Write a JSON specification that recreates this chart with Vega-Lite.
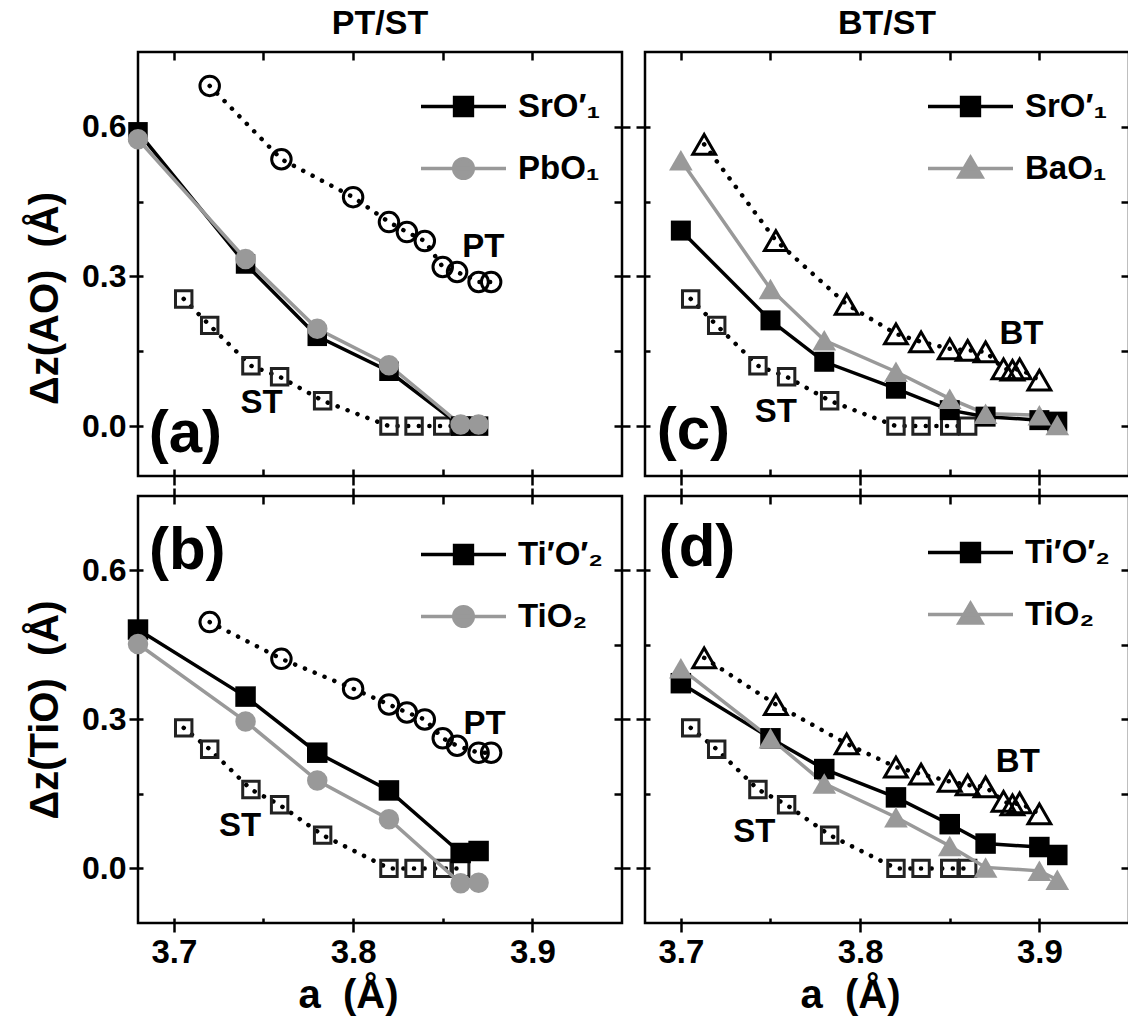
{
  "$schema": "https://vega.github.io/schema/vega-lite/v6.json",
  "background": "white",
  "padding": {"left": 24, "top": 5, "right": 0, "bottom": 5},
  "config": {
    "view": {"stroke": "black", "strokeWidth": 2.5},
    "font": "Liberation Sans",
    "axis": {"domain": false, "grid": false, "tickColor": "black", "tickWidth": 2.5, "labelFont": "Liberation Sans", "labelFontWeight": "bold", "labelFontSize": 32, "labelColor": "black", "titleFont": "Liberation Sans", "titleFontWeight": "bold", "titleColor": "black"}
  },
  "datasets": {
    "dA": [
      {"s": "SrO′₁", "a": 3.68, "v": 0.59}, {"s": "SrO′₁", "a": 3.74, "v": 0.325}, {"s": "SrO′₁", "a": 3.78, "v": 0.18}, {"s": "SrO′₁", "a": 3.82, "v": 0.11}, {"s": "SrO′₁", "a": 3.86, "v": 0.0}, {"s": "SrO′₁", "a": 3.87, "v": 0.0},
      {"s": "PbO₁", "a": 3.68, "v": 0.575}, {"s": "PbO₁", "a": 3.74, "v": 0.335}, {"s": "PbO₁", "a": 3.78, "v": 0.195}, {"s": "PbO₁", "a": 3.82, "v": 0.122}, {"s": "PbO₁", "a": 3.86, "v": 0.003}, {"s": "PbO₁", "a": 3.87, "v": 0.003},
      {"s": "PT", "a": 3.72, "v": 0.682}, {"s": "PT", "a": 3.76, "v": 0.535}, {"s": "PT", "a": 3.8, "v": 0.459}, {"s": "PT", "a": 3.82, "v": 0.409}, {"s": "PT", "a": 3.83, "v": 0.389}, {"s": "PT", "a": 3.84, "v": 0.371}, {"s": "PT", "a": 3.85, "v": 0.319}, {"s": "PT", "a": 3.858, "v": 0.309}, {"s": "PT", "a": 3.87, "v": 0.289}, {"s": "PT", "a": 3.877, "v": 0.289},
      {"s": "ST", "a": 3.7055, "v": 0.255}, {"s": "ST", "a": 3.72, "v": 0.202}, {"s": "ST", "a": 3.743, "v": 0.121}, {"s": "ST", "a": 3.759, "v": 0.099}, {"s": "ST", "a": 3.783, "v": 0.051}, {"s": "ST", "a": 3.82, "v": 0.0}, {"s": "ST", "a": 3.834, "v": 0.0}, {"s": "ST", "a": 3.85, "v": 0.0}, {"s": "ST", "a": 3.86, "v": 0.0}
    ],
    "dB": [
      {"s": "Ti′O′₂", "a": 3.68, "v": 0.481}, {"s": "Ti′O′₂", "a": 3.74, "v": 0.346}, {"s": "Ti′O′₂", "a": 3.78, "v": 0.233}, {"s": "Ti′O′₂", "a": 3.82, "v": 0.157}, {"s": "Ti′O′₂", "a": 3.86, "v": 0.031}, {"s": "Ti′O′₂", "a": 3.87, "v": 0.035},
      {"s": "TiO₂", "a": 3.68, "v": 0.452}, {"s": "TiO₂", "a": 3.74, "v": 0.296}, {"s": "TiO₂", "a": 3.78, "v": 0.177}, {"s": "TiO₂", "a": 3.82, "v": 0.099}, {"s": "TiO₂", "a": 3.86, "v": -0.03}, {"s": "TiO₂", "a": 3.87, "v": -0.029},
      {"s": "PT", "a": 3.72, "v": 0.496}, {"s": "PT", "a": 3.76, "v": 0.422}, {"s": "PT", "a": 3.8, "v": 0.362}, {"s": "PT", "a": 3.82, "v": 0.33}, {"s": "PT", "a": 3.83, "v": 0.314}, {"s": "PT", "a": 3.84, "v": 0.3}, {"s": "PT", "a": 3.85, "v": 0.262}, {"s": "PT", "a": 3.858, "v": 0.247}, {"s": "PT", "a": 3.87, "v": 0.233}, {"s": "PT", "a": 3.877, "v": 0.233},
      {"s": "ST", "a": 3.7055, "v": 0.283}, {"s": "ST", "a": 3.72, "v": 0.24}, {"s": "ST", "a": 3.743, "v": 0.159}, {"s": "ST", "a": 3.759, "v": 0.128}, {"s": "ST", "a": 3.783, "v": 0.067}, {"s": "ST", "a": 3.82, "v": 0.0}, {"s": "ST", "a": 3.834, "v": 0.0}, {"s": "ST", "a": 3.85, "v": 0.0}, {"s": "ST", "a": 3.86, "v": 0.0}
    ],
    "dC": [
      {"s": "SrO′₁", "a": 3.7, "v": 0.392}, {"s": "SrO′₁", "a": 3.75, "v": 0.212}, {"s": "SrO′₁", "a": 3.78, "v": 0.129}, {"s": "SrO′₁", "a": 3.82, "v": 0.075}, {"s": "SrO′₁", "a": 3.85, "v": 0.032}, {"s": "SrO′₁", "a": 3.87, "v": 0.019}, {"s": "SrO′₁", "a": 3.9, "v": 0.012}, {"s": "SrO′₁", "a": 3.91, "v": 0.009},
      {"s": "BaO₁", "a": 3.7, "v": 0.533}, {"s": "BaO₁", "a": 3.75, "v": 0.275}, {"s": "BaO₁", "a": 3.78, "v": 0.172}, {"s": "BaO₁", "a": 3.82, "v": 0.109}, {"s": "BaO₁", "a": 3.85, "v": 0.055}, {"s": "BaO₁", "a": 3.87, "v": 0.025}, {"s": "BaO₁", "a": 3.9, "v": 0.022}, {"s": "BaO₁", "a": 3.91, "v": 0.002},
      {"s": "BT", "a": 3.713, "v": 0.565}, {"s": "BT", "a": 3.753, "v": 0.372}, {"s": "BT", "a": 3.7925, "v": 0.244}, {"s": "BT", "a": 3.82, "v": 0.185}, {"s": "BT", "a": 3.834, "v": 0.169}, {"s": "BT", "a": 3.85, "v": 0.155}, {"s": "BT", "a": 3.86, "v": 0.152}, {"s": "BT", "a": 3.87, "v": 0.149}, {"s": "BT", "a": 3.88, "v": 0.115}, {"s": "BT", "a": 3.885, "v": 0.112}, {"s": "BT", "a": 3.889, "v": 0.115}, {"s": "BT", "a": 3.9, "v": 0.092},
      {"s": "ST", "a": 3.7055, "v": 0.255}, {"s": "ST", "a": 3.72, "v": 0.202}, {"s": "ST", "a": 3.743, "v": 0.121}, {"s": "ST", "a": 3.759, "v": 0.099}, {"s": "ST", "a": 3.783, "v": 0.051}, {"s": "ST", "a": 3.82, "v": 0.0}, {"s": "ST", "a": 3.834, "v": 0.0}, {"s": "ST", "a": 3.85, "v": 0.0}, {"s": "ST", "a": 3.86, "v": 0.0}
    ],
    "dD": [
      {"s": "Ti′O′₂", "a": 3.7, "v": 0.373}, {"s": "Ti′O′₂", "a": 3.75, "v": 0.262}, {"s": "Ti′O′₂", "a": 3.78, "v": 0.2}, {"s": "Ti′O′₂", "a": 3.82, "v": 0.143}, {"s": "Ti′O′₂", "a": 3.85, "v": 0.089}, {"s": "Ti′O′₂", "a": 3.87, "v": 0.05}, {"s": "Ti′O′₂", "a": 3.9, "v": 0.043}, {"s": "Ti′O′₂", "a": 3.91, "v": 0.027},
      {"s": "TiO₂", "a": 3.7, "v": 0.403}, {"s": "TiO₂", "a": 3.75, "v": 0.262}, {"s": "TiO₂", "a": 3.78, "v": 0.171}, {"s": "TiO₂", "a": 3.82, "v": 0.103}, {"s": "TiO₂", "a": 3.85, "v": 0.045}, {"s": "TiO₂", "a": 3.87, "v": 0.002}, {"s": "TiO₂", "a": 3.9, "v": -0.005}, {"s": "TiO₂", "a": 3.91, "v": -0.023},
      {"s": "BT", "a": 3.713, "v": 0.424}, {"s": "BT", "a": 3.753, "v": 0.33}, {"s": "BT", "a": 3.7925, "v": 0.251}, {"s": "BT", "a": 3.82, "v": 0.204}, {"s": "BT", "a": 3.834, "v": 0.19}, {"s": "BT", "a": 3.85, "v": 0.175}, {"s": "BT", "a": 3.86, "v": 0.168}, {"s": "BT", "a": 3.87, "v": 0.164}, {"s": "BT", "a": 3.88, "v": 0.135}, {"s": "BT", "a": 3.885, "v": 0.128}, {"s": "BT", "a": 3.889, "v": 0.132}, {"s": "BT", "a": 3.9, "v": 0.11},
      {"s": "ST", "a": 3.7055, "v": 0.283}, {"s": "ST", "a": 3.72, "v": 0.24}, {"s": "ST", "a": 3.743, "v": 0.159}, {"s": "ST", "a": 3.759, "v": 0.128}, {"s": "ST", "a": 3.783, "v": 0.067}, {"s": "ST", "a": 3.82, "v": 0.0}, {"s": "ST", "a": 3.834, "v": 0.0}, {"s": "ST", "a": 3.85, "v": 0.0}, {"s": "ST", "a": 3.86, "v": 0.0}
    ],
    "tA": [{"t": "(a)", "k": "big", "a": 3.7064, "v": -0.015}, {"t": "PT", "k": "small", "a": 3.8726, "v": 0.359}, {"t": "ST", "k": "small", "a": 3.749, "v": 0.047}],
    "tB": [{"t": "(b)", "k": "big", "a": 3.7075, "v": 0.64}, {"t": "PT", "k": "small", "a": 3.8733, "v": 0.29}, {"t": "ST", "k": "small", "a": 3.737, "v": 0.085}],
    "tC": [{"t": "(c)", "k": "big", "a": 3.707, "v": -0.009}, {"t": "BT", "k": "small", "a": 3.89, "v": 0.185}, {"t": "ST", "k": "small", "a": 3.753, "v": 0.029}],
    "tD": [{"t": "(d)", "k": "big", "a": 3.709, "v": 0.646}, {"t": "BT", "k": "small", "a": 3.888, "v": 0.215}, {"t": "ST", "k": "small", "a": 3.741, "v": 0.074}]
  },
  "bounds": "flush",
  "columns": 2,
  "spacing": {"row": 20, "column": 23},
  "resolve": {"scale": {"x": "independent", "y": "independent", "color": "independent"}, "legend": {"color": "independent"}},
  "concat": [
        {
          "width": 484, "height": 424,
          "title": {"text": "PT/ST", "fontSize": 34, "fontWeight": "bold", "font": "Liberation Sans", "color": "black", "offset": 10},
          "data": {"name": "dA"},
          "resolve": {"axis": {"x": "independent", "y": "independent"}},
          "layer": [
            {"mark": {"type": "line", "color": "black", "strokeWidth": 4.5, "strokeDash": [0.1, 10.5], "strokeCap": "round"},
             "transform": [{"filter": "datum.s === 'PT' || datum.s === 'ST'"}],
             "encoding": {
               "x": {"field": "a", "type": "quantitative", "scale": {"domain": [3.68, 3.95], "nice": false, "zero": false}, "axis": {"orient": "bottom", "values": [3.7, 3.8, 3.9], "tickSize": 9, "labels": false, "title": null}},
               "y": {"field": "v", "type": "quantitative", "scale": {"domain": [-0.1, 0.75], "nice": false, "zero": false}, "axis": {"orient": "left", "values": [0, 0.3, 0.6], "format": ".1f", "tickSize": 9, "labelPadding": 3, "title": "Δz(AO)\u00a0\u00a0(Å)", "titleFontSize": 40, "titlePadding": 16, "titleY": 246}},
               "detail": {"field": "s"}}},
            {"mark": {"type": "point", "shape": "circle", "filled": false, "size": 380, "strokeWidth": 3, "color": "black", "opacity": 1},
             "transform": [{"filter": "datum.s === 'PT'"}],
             "encoding": {"x": {"field": "a", "type": "quantitative", "axis": null}, "y": {"field": "v", "type": "quantitative", "axis": null}}},
            {"mark": {"type": "point", "shape": "square", "filled": false, "size": 270, "strokeWidth": 3, "color": "#222222", "opacity": 1},
             "transform": [{"filter": "datum.s === 'ST'"}],
             "encoding": {"x": {"field": "a", "type": "quantitative", "axis": null}, "y": {"field": "v", "type": "quantitative", "axis": null}}},
            {"mark": {"type": "line", "strokeWidth": 3.5},
             "transform": [{"filter": "datum.s !== 'PT' && datum.s !== 'ST'"}],
             "encoding": {"x": {"field": "a", "type": "quantitative", "axis": null}, "y": {"field": "v", "type": "quantitative", "axis": null},
               "color": {"field": "s", "type": "nominal", "scale": {"domain": ["SrO′₁", "PbO₁"], "range": ["black", "#999999"]},
                 "legend": {"orient": "none", "legendX": 281, "legendY": 10, "title": null, "padding": 0, "offset": 0, "symbolSize": 7225, "symbolStrokeWidth": 3.5, "labelFont": "Liberation Sans", "labelFontSize": 33, "labelFontWeight": "bold", "labelColor": "black", "labelOffset": 10, "rowPadding": -43,
                   "encode": {"symbols": {"update": {"shape": {"signal": "datum.index === 0 ? 'M-1,0H1M-0.21,-0.21H0.21V0.21H-0.21Z' : 'M-1,0H1M0.23,0A0.23,0.23,0,1,1,-0.23,0A0.23,0.23,0,1,1,0.23,0Z'"}, "fill": {"signal": "datum.index === 0 ? 'black' : '#999999'"}, "stroke": {"signal": "datum.index === 0 ? 'black' : '#999999'"}, "strokeWidth": {"value": 3.5}, "opacity": {"value": 1}}}}}}}},
            {"mark": {"type": "point", "shape": "square", "filled": true, "size": 380, "color": "black", "opacity": 1},
             "transform": [{"filter": "datum.s === 'SrO′₁'"}],
             "encoding": {"x": {"field": "a", "type": "quantitative", "axis": null}, "y": {"field": "v", "type": "quantitative", "axis": null}}},
            {"mark": {"type": "point", "shape": "circle", "filled": true, "size": 420, "color": "#999999", "opacity": 1},
             "transform": [{"filter": "datum.s === 'PbO₁'"}],
             "encoding": {"x": {"field": "a", "type": "quantitative", "axis": null}, "y": {"field": "v", "type": "quantitative", "axis": null}}},
            {"data": {"name": "tA"}, "transform": [{"filter": "datum.k === 'big'"}],
             "mark": {"type": "text", "font": "Liberation Sans", "fontWeight": "bold", "fontSize": 60, "color": "black", "align": "center", "baseline": "middle"},
             "encoding": {"x": {"field": "a", "type": "quantitative", "axis": null}, "y": {"field": "v", "type": "quantitative", "axis": null}, "text": {"field": "t"}}},
            {"data": {"name": "tA"}, "transform": [{"filter": "datum.k === 'small'"}],
             "mark": {"type": "text", "font": "Liberation Sans", "fontWeight": "bold", "fontSize": 33, "color": "black", "align": "center", "baseline": "middle"},
             "encoding": {"x": {"field": "a", "type": "quantitative", "axis": null}, "y": {"field": "v", "type": "quantitative", "axis": null}, "text": {"field": "t"}}},
            {"mark": {"type": "point", "opacity": 0},
             "encoding": {"x": {"field": "a", "type": "quantitative", "axis": {"orient": "bottom", "values": [3.7, 3.75, 3.8, 3.85, 3.9], "tickSize": -7, "labels": false, "title": null}},
               "y": {"field": "v", "type": "quantitative", "axis": {"orient": "left", "values": [0, 0.15, 0.3, 0.45, 0.6], "tickSize": -5, "labels": false, "title": null}}}},
            {"mark": {"type": "point", "opacity": 0},
             "encoding": {"x": {"field": "a", "type": "quantitative", "axis": {"orient": "top", "values": [3.7, 3.75, 3.8, 3.85, 3.9], "tickSize": -8, "labels": false, "title": null}},
               "y": {"field": "v", "type": "quantitative", "axis": {"orient": "right", "values": [0, 0.15, 0.3, 0.45, 0.6], "tickSize": -8, "labels": false, "title": null}}}},
            {"mark": {"type": "point", "opacity": 0},
             "encoding": {"x": {"field": "a", "type": "quantitative", "axis": null},
               "y": {"field": "v", "type": "quantitative", "axis": {"orient": "right", "values": [0, 0.3, 0.6], "tickSize": 8, "labels": false, "title": null}}}}
          ]
        },
        {
          "width": 484, "height": 424,
          "title": {"text": "BT/ST", "fontSize": 34, "fontWeight": "bold", "font": "Liberation Sans", "color": "black", "offset": 10},
          "data": {"name": "dC"},
          "resolve": {"axis": {"x": "independent", "y": "independent"}},
          "layer": [
            {"mark": {"type": "line", "color": "black", "strokeWidth": 4.5, "strokeDash": [0.1, 10.5], "strokeCap": "round"},
             "transform": [{"filter": "datum.s === 'BT' || datum.s === 'ST'"}],
             "encoding": {
               "x": {"field": "a", "type": "quantitative", "scale": {"domain": [3.68, 3.95], "nice": false, "zero": false}, "axis": {"orient": "bottom", "values": [3.7, 3.8, 3.9], "tickSize": 9, "labels": false, "title": null}},
               "y": {"field": "v", "type": "quantitative", "scale": {"domain": [-0.1, 0.75], "nice": false, "zero": false}, "axis": {"orient": "left", "values": [0, 0.3, 0.6], "tickSize": 9, "labels": false, "title": null}},
               "detail": {"field": "s"}}},
            {"mark": {"type": "point", "shape": "triangle-up", "filled": false, "size": 520, "strokeWidth": 3, "color": "black", "opacity": 1},
             "transform": [{"filter": "datum.s === 'BT'"}],
             "encoding": {"x": {"field": "a", "type": "quantitative", "axis": null}, "y": {"field": "v", "type": "quantitative", "axis": null}}},
            {"mark": {"type": "point", "shape": "square", "filled": false, "size": 270, "strokeWidth": 3, "color": "#222222", "opacity": 1},
             "transform": [{"filter": "datum.s === 'ST'"}],
             "encoding": {"x": {"field": "a", "type": "quantitative", "axis": null}, "y": {"field": "v", "type": "quantitative", "axis": null}}},
            {"mark": {"type": "line", "strokeWidth": 3.5},
             "transform": [{"filter": "datum.s !== 'BT' && datum.s !== 'ST'"}],
             "encoding": {"x": {"field": "a", "type": "quantitative", "axis": null}, "y": {"field": "v", "type": "quantitative", "axis": null},
               "color": {"field": "s", "type": "nominal", "scale": {"domain": ["SrO′₁", "BaO₁"], "range": ["black", "#999999"]},
                 "legend": {"orient": "none", "legendX": 281, "legendY": 10, "title": null, "padding": 0, "offset": 0, "symbolSize": 7225, "symbolStrokeWidth": 3.5, "labelFont": "Liberation Sans", "labelFontSize": 33, "labelFontWeight": "bold", "labelColor": "black", "labelOffset": 10, "rowPadding": -43,
                   "encode": {"symbols": {"update": {"shape": {"signal": "datum.index === 0 ? 'M-1,0H1M-0.21,-0.21H0.21V0.21H-0.21Z' : 'M-1,0H1M0,-0.26L0.27,0.2H-0.27Z'"}, "fill": {"signal": "datum.index === 0 ? 'black' : '#999999'"}, "stroke": {"signal": "datum.index === 0 ? 'black' : '#999999'"}, "strokeWidth": {"value": 3.5}, "opacity": {"value": 1}}}}}}}},
            {"mark": {"type": "point", "shape": "square", "filled": true, "size": 400, "color": "black", "opacity": 1},
             "transform": [{"filter": "datum.s === 'SrO′₁'"}],
             "encoding": {"x": {"field": "a", "type": "quantitative", "axis": null}, "y": {"field": "v", "type": "quantitative", "axis": null}}},
            {"mark": {"type": "point", "shape": "triangle-up", "filled": true, "size": 560, "color": "#999999", "opacity": 1},
             "transform": [{"filter": "datum.s === 'BaO₁'"}],
             "encoding": {"x": {"field": "a", "type": "quantitative", "axis": null}, "y": {"field": "v", "type": "quantitative", "axis": null}}},
            {"data": {"name": "tC"}, "transform": [{"filter": "datum.k === 'big'"}],
             "mark": {"type": "text", "font": "Liberation Sans", "fontWeight": "bold", "fontSize": 60, "color": "black", "align": "center", "baseline": "middle"},
             "encoding": {"x": {"field": "a", "type": "quantitative", "axis": null}, "y": {"field": "v", "type": "quantitative", "axis": null}, "text": {"field": "t"}}},
            {"data": {"name": "tC"}, "transform": [{"filter": "datum.k === 'small'"}],
             "mark": {"type": "text", "font": "Liberation Sans", "fontWeight": "bold", "fontSize": 33, "color": "black", "align": "center", "baseline": "middle"},
             "encoding": {"x": {"field": "a", "type": "quantitative", "axis": null}, "y": {"field": "v", "type": "quantitative", "axis": null}, "text": {"field": "t"}}},
            {"mark": {"type": "point", "opacity": 0},
             "encoding": {"x": {"field": "a", "type": "quantitative", "axis": {"orient": "bottom", "values": [3.7, 3.75, 3.8, 3.85, 3.9], "tickSize": -7, "labels": false, "title": null}},
               "y": {"field": "v", "type": "quantitative", "axis": {"orient": "left", "values": [0, 0.15, 0.3, 0.45, 0.6], "tickSize": -5, "labels": false, "title": null}}}},
            {"mark": {"type": "point", "opacity": 0},
             "encoding": {"x": {"field": "a", "type": "quantitative", "axis": {"orient": "top", "values": [3.7, 3.75, 3.8, 3.85, 3.9], "tickSize": -8, "labels": false, "title": null}},
               "y": {"field": "v", "type": "quantitative", "axis": {"orient": "right", "values": [0, 0.15, 0.3, 0.45, 0.6], "tickSize": -8, "labels": false, "title": null}}}},
            {"mark": {"type": "point", "opacity": 0},
             "encoding": {"x": {"field": "a", "type": "quantitative", "axis": null},
               "y": {"field": "v", "type": "quantitative", "axis": {"orient": "right", "values": [0, 0.3, 0.6], "tickSize": 8, "labels": false, "title": null}}}}
          ]
        },
        {
          "width": 484, "height": 427,
          "data": {"name": "dB"},
          "resolve": {"axis": {"x": "independent", "y": "independent"}},
          "layer": [
            {"mark": {"type": "line", "color": "black", "strokeWidth": 4.5, "strokeDash": [0.1, 10.5], "strokeCap": "round"},
             "transform": [{"filter": "datum.s === 'PT' || datum.s === 'ST'"}],
             "encoding": {
               "x": {"field": "a", "type": "quantitative", "scale": {"domain": [3.68, 3.95], "nice": false, "zero": false}, "axis": {"orient": "bottom", "values": [3.7, 3.8, 3.9], "format": ".1f", "tickSize": 9, "labelPadding": 4, "labelFontSize": 33, "title": "a\u00a0\u00a0(Å)", "titleFontSize": 40, "titlePadding": 6, "titleX": 210}},
               "y": {"field": "v", "type": "quantitative", "scale": {"domain": [-0.11, 0.75], "nice": false, "zero": false}, "axis": {"orient": "left", "values": [0, 0.3, 0.6], "format": ".1f", "tickSize": 9, "labelPadding": 3, "title": "Δz(TiO)\u00a0\u00a0(Å)", "titleFontSize": 40, "titlePadding": 16}},
               "detail": {"field": "s"}}},
            {"mark": {"type": "point", "shape": "circle", "filled": false, "size": 380, "strokeWidth": 3, "color": "black", "opacity": 1},
             "transform": [{"filter": "datum.s === 'PT'"}],
             "encoding": {"x": {"field": "a", "type": "quantitative", "axis": null}, "y": {"field": "v", "type": "quantitative", "axis": null}}},
            {"mark": {"type": "point", "shape": "square", "filled": false, "size": 270, "strokeWidth": 3, "color": "#222222", "opacity": 1},
             "transform": [{"filter": "datum.s === 'ST'"}],
             "encoding": {"x": {"field": "a", "type": "quantitative", "axis": null}, "y": {"field": "v", "type": "quantitative", "axis": null}}},
            {"mark": {"type": "line", "strokeWidth": 3.5},
             "transform": [{"filter": "datum.s !== 'PT' && datum.s !== 'ST'"}],
             "encoding": {"x": {"field": "a", "type": "quantitative", "axis": null}, "y": {"field": "v", "type": "quantitative", "axis": null},
               "color": {"field": "s", "type": "nominal", "scale": {"domain": ["Ti′O′₂", "TiO₂"], "range": ["black", "#999999"]},
                 "legend": {"orient": "none", "legendX": 281, "legendY": 14, "title": null, "padding": 0, "offset": 0, "symbolSize": 7225, "symbolStrokeWidth": 3.5, "labelFont": "Liberation Sans", "labelFontSize": 33, "labelFontWeight": "bold", "labelColor": "black", "labelOffset": 10, "rowPadding": -43,
                   "encode": {"symbols": {"update": {"shape": {"signal": "datum.index === 0 ? 'M-1,0H1M-0.21,-0.21H0.21V0.21H-0.21Z' : 'M-1,0H1M0.23,0A0.23,0.23,0,1,1,-0.23,0A0.23,0.23,0,1,1,0.23,0Z'"}, "fill": {"signal": "datum.index === 0 ? 'black' : '#999999'"}, "stroke": {"signal": "datum.index === 0 ? 'black' : '#999999'"}, "strokeWidth": {"value": 3.5}, "opacity": {"value": 1}}}}}}}},
            {"mark": {"type": "point", "shape": "square", "filled": true, "size": 420, "color": "black", "opacity": 1},
             "transform": [{"filter": "datum.s === 'Ti′O′₂'"}],
             "encoding": {"x": {"field": "a", "type": "quantitative", "axis": null}, "y": {"field": "v", "type": "quantitative", "axis": null}}},
            {"mark": {"type": "point", "shape": "circle", "filled": true, "size": 420, "color": "#999999", "opacity": 1},
             "transform": [{"filter": "datum.s === 'TiO₂'"}],
             "encoding": {"x": {"field": "a", "type": "quantitative", "axis": null}, "y": {"field": "v", "type": "quantitative", "axis": null}}},
            {"data": {"name": "tB"}, "transform": [{"filter": "datum.k === 'big'"}],
             "mark": {"type": "text", "font": "Liberation Sans", "fontWeight": "bold", "fontSize": 60, "color": "black", "align": "center", "baseline": "middle"},
             "encoding": {"x": {"field": "a", "type": "quantitative", "axis": null}, "y": {"field": "v", "type": "quantitative", "axis": null}, "text": {"field": "t"}}},
            {"data": {"name": "tB"}, "transform": [{"filter": "datum.k === 'small'"}],
             "mark": {"type": "text", "font": "Liberation Sans", "fontWeight": "bold", "fontSize": 33, "color": "black", "align": "center", "baseline": "middle"},
             "encoding": {"x": {"field": "a", "type": "quantitative", "axis": null}, "y": {"field": "v", "type": "quantitative", "axis": null}, "text": {"field": "t"}}},
            {"mark": {"type": "point", "opacity": 0},
             "encoding": {"x": {"field": "a", "type": "quantitative", "axis": {"orient": "bottom", "values": [3.7, 3.75, 3.8, 3.85, 3.9], "tickSize": -5, "labels": false, "title": null}},
               "y": {"field": "v", "type": "quantitative", "axis": {"orient": "left", "values": [0, 0.15, 0.3, 0.45, 0.6], "tickSize": -5, "labels": false, "title": null}}}},
            {"mark": {"type": "point", "opacity": 0},
             "encoding": {"x": {"field": "a", "type": "quantitative", "axis": {"orient": "top", "values": [3.7, 3.75, 3.8, 3.85, 3.9], "tickSize": -8, "labels": false, "title": null}},
               "y": {"field": "v", "type": "quantitative", "axis": {"orient": "right", "values": [0, 0.15, 0.3, 0.45, 0.6], "tickSize": -8, "labels": false, "title": null}}}},
            {"mark": {"type": "point", "opacity": 0},
             "encoding": {"x": {"field": "a", "type": "quantitative", "axis": {"orient": "top", "values": [3.7, 3.8, 3.9], "tickSize": 8, "labels": false, "title": null}},
               "y": {"field": "v", "type": "quantitative", "axis": {"orient": "right", "values": [0, 0.3, 0.6], "tickSize": 8, "labels": false, "title": null}}}}
          ]
        },
        {
          "width": 484, "height": 427,
          "data": {"name": "dD"},
          "resolve": {"axis": {"x": "independent", "y": "independent"}},
          "layer": [
            {"mark": {"type": "line", "color": "black", "strokeWidth": 4.5, "strokeDash": [0.1, 10.5], "strokeCap": "round"},
             "transform": [{"filter": "datum.s === 'BT' || datum.s === 'ST'"}],
             "encoding": {
               "x": {"field": "a", "type": "quantitative", "scale": {"domain": [3.68, 3.95], "nice": false, "zero": false}, "axis": {"orient": "bottom", "values": [3.7, 3.8, 3.9], "format": ".1f", "tickSize": 9, "labelPadding": 4, "labelFontSize": 33, "title": "a\u00a0\u00a0(Å)", "titleFontSize": 40, "titlePadding": 6, "titleX": 205}},
               "y": {"field": "v", "type": "quantitative", "scale": {"domain": [-0.11, 0.75], "nice": false, "zero": false}, "axis": {"orient": "left", "values": [0, 0.3, 0.6], "tickSize": 9, "labels": false, "title": null}},
               "detail": {"field": "s"}}},
            {"mark": {"type": "point", "shape": "triangle-up", "filled": false, "size": 520, "strokeWidth": 3, "color": "black", "opacity": 1},
             "transform": [{"filter": "datum.s === 'BT'"}],
             "encoding": {"x": {"field": "a", "type": "quantitative", "axis": null}, "y": {"field": "v", "type": "quantitative", "axis": null}}},
            {"mark": {"type": "point", "shape": "square", "filled": false, "size": 270, "strokeWidth": 3, "color": "#222222", "opacity": 1},
             "transform": [{"filter": "datum.s === 'ST'"}],
             "encoding": {"x": {"field": "a", "type": "quantitative", "axis": null}, "y": {"field": "v", "type": "quantitative", "axis": null}}},
            {"mark": {"type": "line", "strokeWidth": 3.5},
             "transform": [{"filter": "datum.s !== 'BT' && datum.s !== 'ST'"}],
             "encoding": {"x": {"field": "a", "type": "quantitative", "axis": null}, "y": {"field": "v", "type": "quantitative", "axis": null},
               "color": {"field": "s", "type": "nominal", "scale": {"domain": ["Ti′O′₂", "TiO₂"], "range": ["black", "#999999"]},
                 "legend": {"orient": "none", "legendX": 281, "legendY": 12, "title": null, "padding": 0, "offset": 0, "symbolSize": 7225, "symbolStrokeWidth": 3.5, "labelFont": "Liberation Sans", "labelFontSize": 33, "labelFontWeight": "bold", "labelColor": "black", "labelOffset": 10, "rowPadding": -43,
                   "encode": {"symbols": {"update": {"shape": {"signal": "datum.index === 0 ? 'M-1,0H1M-0.21,-0.21H0.21V0.21H-0.21Z' : 'M-1,0H1M0,-0.26L0.27,0.2H-0.27Z'"}, "fill": {"signal": "datum.index === 0 ? 'black' : '#999999'"}, "stroke": {"signal": "datum.index === 0 ? 'black' : '#999999'"}, "strokeWidth": {"value": 3.5}, "opacity": {"value": 1}}}}}}}},
            {"mark": {"type": "point", "shape": "square", "filled": true, "size": 420, "color": "black", "opacity": 1},
             "transform": [{"filter": "datum.s === 'Ti′O′₂'"}],
             "encoding": {"x": {"field": "a", "type": "quantitative", "axis": null}, "y": {"field": "v", "type": "quantitative", "axis": null}}},
            {"mark": {"type": "point", "shape": "triangle-up", "filled": true, "size": 560, "color": "#999999", "opacity": 1},
             "transform": [{"filter": "datum.s === 'TiO₂'"}],
             "encoding": {"x": {"field": "a", "type": "quantitative", "axis": null}, "y": {"field": "v", "type": "quantitative", "axis": null}}},
            {"data": {"name": "tD"}, "transform": [{"filter": "datum.k === 'big'"}],
             "mark": {"type": "text", "font": "Liberation Sans", "fontWeight": "bold", "fontSize": 60, "color": "black", "align": "center", "baseline": "middle"},
             "encoding": {"x": {"field": "a", "type": "quantitative", "axis": null}, "y": {"field": "v", "type": "quantitative", "axis": null}, "text": {"field": "t"}}},
            {"data": {"name": "tD"}, "transform": [{"filter": "datum.k === 'small'"}],
             "mark": {"type": "text", "font": "Liberation Sans", "fontWeight": "bold", "fontSize": 33, "color": "black", "align": "center", "baseline": "middle"},
             "encoding": {"x": {"field": "a", "type": "quantitative", "axis": null}, "y": {"field": "v", "type": "quantitative", "axis": null}, "text": {"field": "t"}}},
            {"mark": {"type": "point", "opacity": 0},
             "encoding": {"x": {"field": "a", "type": "quantitative", "axis": {"orient": "bottom", "values": [3.7, 3.75, 3.8, 3.85, 3.9], "tickSize": -5, "labels": false, "title": null}},
               "y": {"field": "v", "type": "quantitative", "axis": {"orient": "left", "values": [0, 0.15, 0.3, 0.45, 0.6], "tickSize": -5, "labels": false, "title": null}}}},
            {"mark": {"type": "point", "opacity": 0},
             "encoding": {"x": {"field": "a", "type": "quantitative", "axis": {"orient": "top", "values": [3.7, 3.75, 3.8, 3.85, 3.9], "tickSize": -8, "labels": false, "title": null}},
               "y": {"field": "v", "type": "quantitative", "axis": {"orient": "right", "values": [0, 0.15, 0.3, 0.45, 0.6], "tickSize": -8, "labels": false, "title": null}}}},
            {"mark": {"type": "point", "opacity": 0},
             "encoding": {"x": {"field": "a", "type": "quantitative", "axis": {"orient": "top", "values": [3.7, 3.8, 3.9], "tickSize": 8, "labels": false, "title": null}},
               "y": {"field": "v", "type": "quantitative", "axis": {"orient": "right", "values": [0, 0.3, 0.6], "tickSize": 8, "labels": false, "title": null}}}}
          ]
        }
  ]
}
